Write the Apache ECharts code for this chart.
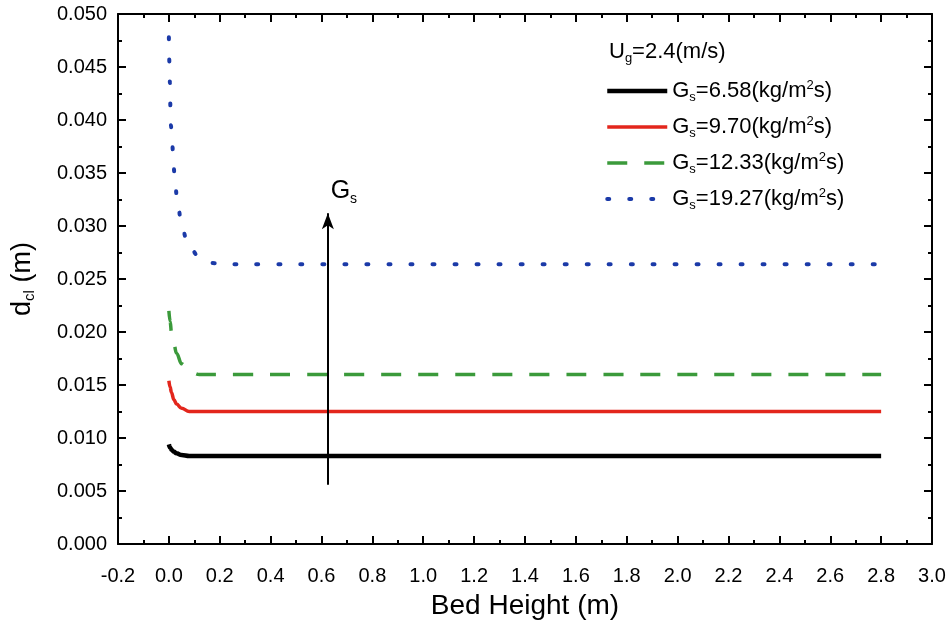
<!DOCTYPE html>
<html>
<head>
<meta charset="utf-8">
<script src="https://cdn.jsdelivr.net/npm/echarts@6/dist/echarts.min.js"></script>
<style>html,body{margin:0;padding:0;background:#fff}#c{width:949px;height:630px}</style>
</head>
<body>
<div id="c"></div>
<script>
// Data
const xBlack = [0, 0.005, 0.01, 0.02, 0.03, 0.05, 0.08, 0.12, 2.8];
const yBlack = [0.0094, 0.0091, 0.0089, 0.0087, 0.00855, 0.0084, 0.0083, 0.0083, 0.0083];
const xRed = [0, 0.005, 0.01, 0.02, 0.03, 0.05, 0.08, 0.12, 2.8];
const yRed = [0.0154, 0.0148, 0.0143, 0.0136, 0.0132, 0.0128, 0.0125, 0.0125, 0.0125];
const xGreen = [0, 0.005, 0.01, 0.02, 0.03, 0.05, 0.08, 0.12, 2.8];
const yGreen = [0.0220, 0.0210, 0.0200, 0.0188, 0.0180, 0.0170, 0.0163, 0.0160, 0.0160];
const xBlue = [0, 0.002, 0.004, 0.006, 0.008, 0.012, 0.016, 0.022, 0.032, 0.05, 0.07, 0.09, 0.12, 0.17, 0.25, 2.8];
const yBlue = [0.0478, 0.0455, 0.0435, 0.0413, 0.0395, 0.0382, 0.0371, 0.0349, 0.0327, 0.0301, 0.0287, 0.0277, 0.0270, 0.0265, 0.0264, 0.0264];
const gsValues = ['6.58', '9.70', '12.33', '19.27'];
const ugValue = '2.4';
const arrowX = [0.625, 0.625];
const arrowY = [0.0056, 0.0312];
const xTicks = {min: -0.2, max: 3.0, interval: 0.2};
const yTicks = {min: 0, max: 0.05, interval: 0.005};

const pairs = (xs, ys) => xs.map((x, i) => [x, ys[i]]);
const FONT = '"Liberation Sans", Arial, sans-serif';
const names = gsValues.map(v => 'Gs=' + v);

const styles = [
  {color: '#000000', width: 4.5, type: 'solid'},
  {color: '#e3261c', width: 3.5, type: 'solid'},
  {color: '#3b9a3b', width: 3.5, type: [20, 17]},
  {color: '#1b3aa8', width: 4, type: [2, 20], cap: 'round'}
];

const axisCommon = {
  axisLine: {show: true, onZero: false, lineStyle: {color: '#000', width: 2}},
  axisTick: {show: true, inside: true, length: 8, lineStyle: {color: '#000', width: 2}},
  minorTick: {show: true, splitNumber: 2, length: 4, lineStyle: {color: '#000', width: 2}},
  splitLine: {show: false},
};

const chart = echarts.init(document.getElementById('c'));
chart.setOption({
  animation: false,
  backgroundColor: '#fff',
  grid: {left: 118, right: 17, top: 14, bottom: 86, containLabel: false},
  xAxis: [
    Object.assign({
      type: 'value', min: xTicks.min, max: xTicks.max, interval: xTicks.interval,
      axisLabel: {color: '#000', fontSize: 20, fontFamily: FONT, margin: 22, formatter: v => v.toFixed(1)},
      name: 'Bed Height (m)', nameLocation: 'middle', nameGap: 48,
      nameTextStyle: {color: '#000', fontSize: 28, fontFamily: FONT}
    }, axisCommon),
    Object.assign({
      type: 'value', position: 'top', min: xTicks.min, max: xTicks.max, interval: xTicks.interval,
      axisLabel: {show: false}
    }, axisCommon)
  ],
  yAxis: [
    Object.assign({
      type: 'value', min: yTicks.min, max: yTicks.max, interval: yTicks.interval,
      axisLabel: {color: '#000', fontSize: 20, fontFamily: FONT, margin: 11, formatter: v => v.toFixed(3)},
      name: '{n|d}{s|cl}{n| (m)}', nameLocation: 'middle', nameGap: 80,
      nameTextStyle: {color: '#000', fontSize: 27, fontFamily: FONT,
        rich: {n: {fontSize: 27, fontFamily: FONT, color: '#000', lineHeight: 30},
               s: {fontSize: 15, fontFamily: FONT, color: '#000', padding: [14, 0, 0, 0], lineHeight: 30}}}
    }, axisCommon),
    Object.assign({
      type: 'value', position: 'right', min: yTicks.min, max: yTicks.max, interval: yTicks.interval,
      axisLabel: {show: false}
    }, axisCommon)
  ],
  legend: {
    orient: 'vertical', left: 600, top: 73, itemWidth: 60, itemHeight: 14, itemGap: 10,
    itemStyle: {opacity: 0, color: 'transparent', borderWidth: 0},
    data: names.map((n, i) => ({name: n, lineStyle: Object.assign({}, styles[i])})),
    formatter: function (name) {
      const v = name.slice(3);
      return '{n|G}{s|s}{n|=' + v + '(kg/m}{p|2}{n|s)}';
    },
    textStyle: {
      color: '#000', fontFamily: FONT, fontSize: 22,
      rich: {
        n: {fontSize: 22, fontFamily: FONT, color: '#000', lineHeight: 24},
        s: {fontSize: 13, fontFamily: FONT, color: '#000', padding: [13, 0, 0, 0], lineHeight: 24},
        p: {fontSize: 13, fontFamily: FONT, color: '#000', padding: [0, 0, 11, 0], lineHeight: 24}
      }
    }
  },
  graphic: [{
    type: 'text', left: 609, top: 39,
    style: {
      text: '{n|U}{s|g}{n|=' + ugValue + '(m/s)}',
      rich: {
        n: {fontSize: 22, fontFamily: FONT, fill: '#000', lineHeight: 24},
        s: {fontSize: 13, fontFamily: FONT, fill: '#000', padding: [13, 0, 0, 0], lineHeight: 24}
      }
    }
  }],
  series: [
    {
      name: names[0], type: 'line', data: pairs(xBlack, yBlack), showSymbol: false, symbol: 'none',
      smooth: 0.4, smoothMonotone: 'x',
      lineStyle: styles[0], itemStyle: {color: styles[0].color},
      markLine: {
        silent: true, symbol: ['none', 'arrow'], symbolSize: [9, 16],
        lineStyle: {color: '#000', width: 2, type: 'solid'},
        label: {
          show: true, position: 'end', distance: 8, offset: [16, 0],
          formatter: '{g|G}{s|s}',
          rich: {
            g: {fontSize: 25, fontFamily: FONT, color: '#000', lineHeight: 28},
            s: {fontSize: 14, fontFamily: FONT, color: '#000', padding: [16, 0, 0, 0], lineHeight: 28}
          }
        },
        data: [[{coord: [arrowX[0], arrowY[0]]}, {coord: [arrowX[1], arrowY[1]]}]]
      }
    },
    {
      name: names[1], type: 'line', data: pairs(xRed, yRed), showSymbol: false, symbol: 'none',
      smooth: 0.4, smoothMonotone: 'x',
      lineStyle: styles[1], itemStyle: {color: styles[1].color}
    },
    {
      name: names[2], type: 'line', data: pairs(xGreen, yGreen), showSymbol: false, symbol: 'none',
      smooth: 0.4, smoothMonotone: 'x',
      lineStyle: styles[2], itemStyle: {color: styles[2].color}
    },
    {
      name: names[3], type: 'line', data: pairs(xBlue, yBlue), showSymbol: false, symbol: 'none',
      smooth: 0.4, smoothMonotone: 'x',
      lineStyle: styles[3], itemStyle: {color: styles[3].color}
    }
  ]
});
</script>
</body>
</html>
